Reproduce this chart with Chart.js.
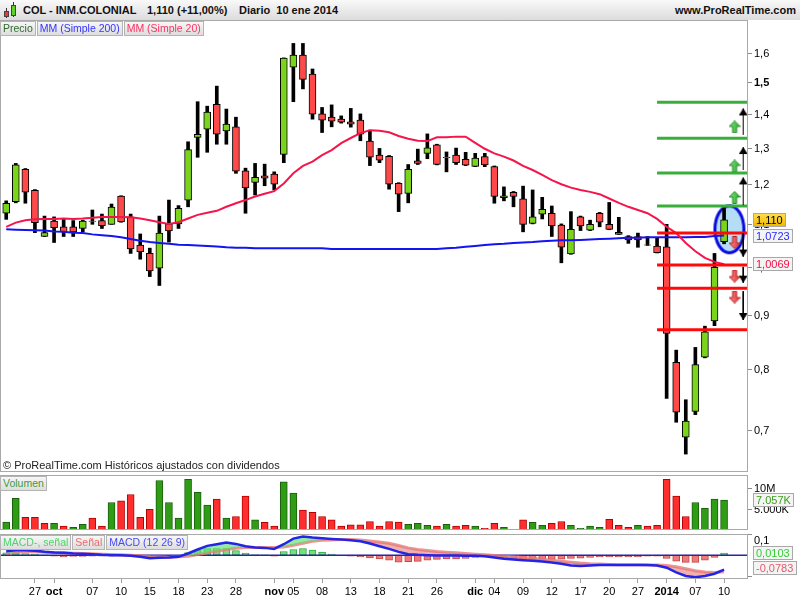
<!DOCTYPE html>
<html>
<head>
<meta charset="utf-8">
<title>COL - INM.COLONIAL</title>
<script src="https://cdn.jsdelivr.net/npm/chart.js@4.4.1/dist/chart.umd.min.js"></script>
<style>
  body { margin: 0; background: #fff; font-family: "Liberation Sans", Arial, sans-serif; }
  #wrap { position: relative; width: 800px; height: 600px; overflow: hidden; }
  #head { position: absolute; left: 0; top: 0; width: 800px; height: 20px; background: linear-gradient(#f9f9f9, #dcdcdc); font-size: 11px; font-weight: bold; color: #111; }
  #head span { position: absolute; top: 4px; white-space: nowrap; }
  canvas { position: absolute; left: 0; }
  .row { position: absolute; left: 0; display: flex; gap: 1px; }
  .tag { height: 13px; line-height: 13px; font-size: 10.5px; padding: 0 2px; border: 1px solid #b4b4b4; background: linear-gradient(#f7f7f7, #dddddd); white-space: nowrap; }
  #note { position: absolute; left: 3px; top: 459px; font-size: 11px; color: #222; white-space: nowrap; }
  .ic { position: absolute; border: 1px solid #444; }
  .wk { position: absolute; width: 1px; background: #333; }
</style>
</head>
<body>
<div id="wrap">
  <div id="head">
    <div class="wk" style="left:6px;top:8px;height:10px"></div>
    <div class="ic" style="left:4px;top:11px;width:3px;height:4px;background:#e83a3a"></div>
    <div class="wk" style="left:13px;top:2px;height:15px"></div>
    <div class="ic" style="left:11px;top:5px;width:3px;height:9px;background:#5fd12a"></div>
    <span style="left:23px">COL - INM.COLONIAL</span>
    <span style="left:147px">1,110 (+11,00%)</span>
    <span style="left:239px">Diario&nbsp; 10 ene 2014</span>
    <span style="right:4px">www.ProRealTime.com</span>
  </div>

  <canvas id="price" width="800" height="452" style="top:20px"></canvas>
  <canvas id="vol" width="800" height="55" style="top:475px"></canvas>
  <canvas id="macd" width="800" height="66" style="top:534px"></canvas>

  <div class="row" style="top:21px">
    <div class="tag" style="color:#2f6a2f">Precio</div>
    <div class="tag" style="color:#3434ff">MM (Simple 200)</div>
    <div class="tag" style="color:#ff3060">MM (Simple 20)</div>
  </div>
  <div id="note">© ProRealTime.com Históricos ajustados con dividendos</div>
  <div class="row" style="top:476px">
    <div class="tag" style="color:#3c9a3c">Volumen</div>
  </div>
  <div class="row" style="top:535px">
    <div class="tag" style="color:#4cd36a">MACD-, señal</div>
    <div class="tag" style="color:#ec6b6b">Señal</div>
    <div class="tag" style="color:#4a4aee">MACD (12 26 9)</div>
  </div>
</div>

<script>
const FONT = '"Liberation Sans", Arial, sans-serif';

// Daily candles, 24 sep 2013 .. 10 ene 2014 (one entry per session)
const open = [1.126, 1.155, 1.240, 1.184, 1.070, 1.107, 1.093, 1.093, 1.089, 1.106,
  1.108, 1.099, 1.169, 1.117, 1.050, 1.031, 0.998, 1.100, 1.100, 1.159,
  1.330, 1.354, 1.430, 1.349, 1.361, 1.236, 1.205, 1.222, 1.227, 1.281,
  1.551, 1.593, 1.528, 1.400, 1.390, 1.384, 1.376, 1.381, 1.319, 1.279,
  1.276, 1.202, 1.176, 1.263, 1.284, 1.308, 1.272, 1.279, 1.267, 1.248,
  1.275, 1.247, 1.165, 1.179, 1.162, 1.101, 1.124, 1.126, 1.097, 1.030,
  1.117, 1.085, 1.126, 1.099, 1.080, 1.070, 1.070, 1.050, 1.048, 1.046,
  0.812, 0.689, 0.729, 0.821, 0.889, 1.058];
const high = [1.157, 1.256, 1.242, 1.186, 1.119, 1.117, 1.111, 1.108, 1.109, 1.134,
  1.124, 1.149, 1.170, 1.124, 1.076, 1.043, 1.119, 1.159, 1.145, 1.317,
  1.438, 1.424, 1.488, 1.415, 1.390, 1.243, 1.256, 1.254, 1.233, 1.583,
  1.634, 1.634, 1.545, 1.420, 1.428, 1.394, 1.417, 1.400, 1.351, 1.298,
  1.278, 1.204, 1.253, 1.296, 1.340, 1.310, 1.288, 1.299, 1.287, 1.284,
  1.284, 1.249, 1.193, 1.181, 1.195, 1.185, 1.166, 1.144, 1.100, 1.130,
  1.119, 1.109, 1.128, 1.153, 1.116, 1.072, 1.078, 1.070, 1.066, 1.099,
  0.834, 0.748, 0.839, 0.879, 1.031, 1.138];
const low = [1.111, 1.152, 1.151, 1.079, 1.070, 1.056, 1.070, 1.070, 1.081, 1.099,
  1.089, 1.099, 1.104, 1.031, 1.018, 0.980, 0.961, 1.057, 1.089, 1.142,
  1.273, 1.287, 1.310, 1.310, 1.229, 1.126, 1.172, 1.196, 1.185, 1.258,
  1.438, 1.479, 1.384, 1.344, 1.361, 1.372, 1.360, 1.320, 1.250, 1.258,
  1.187, 1.130, 1.152, 1.253, 1.269, 1.252, 1.233, 1.253, 1.250, 1.247,
  1.247, 1.151, 1.157, 1.142, 1.081, 1.100, 1.112, 1.070, 1.010, 1.029,
  1.084, 1.084, 1.093, 1.086, 1.075, 1.054, 1.045, 1.049, 1.032, 0.750,
  0.712, 0.664, 0.724, 0.820, 0.880, 1.053];
const close = [1.151, 1.252, 1.179, 1.103, 1.079, 1.091, 1.081, 1.081, 1.107, 1.107,
  1.096, 1.141, 1.105, 1.041, 1.035, 0.992, 1.078, 1.083, 1.138, 1.295,
  1.339, 1.406, 1.339, 1.369, 1.235, 1.190, 1.218, 1.216, 1.200, 1.582,
  1.593, 1.510, 1.399, 1.381, 1.378, 1.375, 1.369, 1.339, 1.273, 1.265,
  1.200, 1.174, 1.240, 1.256, 1.300, 1.253, 1.273, 1.258, 1.251, 1.271,
  1.252, 1.168, 1.170, 1.168, 1.099, 1.117, 1.136, 1.095, 1.045, 1.087,
  1.095, 1.099, 1.104, 1.087, 1.075, 1.062, 1.062, 1.0505, 1.033, 0.865,
  0.728, 0.714, 0.808, 0.868, 1.000, 1.110];

const ma20 = [1.093, 1.103, 1.109, 1.111, 1.112, 1.112, 1.113, 1.112, 1.113, 1.115,
  1.117, 1.117, 1.117, 1.116, 1.113, 1.109, 1.104, 1.100, 1.104, 1.113,
  1.122, 1.127, 1.132, 1.142, 1.151, 1.159, 1.168, 1.175, 1.182, 1.202,
  1.229, 1.249, 1.261, 1.279, 1.293, 1.313, 1.328, 1.342, 1.351, 1.349,
  1.345, 1.334, 1.326, 1.320, 1.319, 1.330, 1.330, 1.332, 1.332, 1.314,
  1.297, 1.284, 1.275, 1.264, 1.249, 1.238, 1.225, 1.211, 1.200, 1.191,
  1.185, 1.180, 1.174, 1.163, 1.152, 1.142, 1.134, 1.126, 1.112, 1.093,
  1.078, 1.055, 1.036, 1.021, 1.012, 1.0069];
const ma200 = [1.087, 1.086, 1.0855, 1.085, 1.084, 1.082, 1.081, 1.079, 1.078, 1.075,
  1.073, 1.071, 1.068, 1.064, 1.060, 1.057, 1.055, 1.053, 1.051, 1.050,
  1.049, 1.048, 1.047, 1.045, 1.044, 1.044, 1.043, 1.043, 1.043, 1.043,
  1.043, 1.043, 1.043, 1.043, 1.041, 1.041, 1.041, 1.041, 1.041, 1.041,
  1.041, 1.041, 1.041, 1.041, 1.041, 1.041, 1.043, 1.044, 1.046, 1.048,
  1.050, 1.052, 1.053, 1.055, 1.056, 1.057, 1.059, 1.060, 1.061, 1.061,
  1.062, 1.063, 1.064, 1.065, 1.066, 1.067, 1.067, 1.068, 1.068, 1.068,
  1.068, 1.068, 1.069, 1.069, 1.071, 1.0723];

// volume in millions of shares, and whether the session closed up (g) or down (r)
const volume = [1.9, 7.5, 3.0, 3.0, 1.6, 1.6, 0.95, 0.65, 1.35, 2.8,
  0.95, 6.5, 6.9, 8.4, 3.0, 4.9, 11.7, 6.5, 2.8, 12.0,
  8.9, 5.9, 7.3, 2.8, 3.2, 8.0, 2.4, 1.8, 0.9, 11.4,
  8.7, 4.7, 4.2, 3.2, 2.4, 0.9, 1.2, 1.2, 2.0, 0.9,
  2.0, 1.9, 1.35, 1.6, 1.1, 0.9, 1.35, 0.9, 1.1, 0.9,
  0.4, 1.6, 0.65, 0.15, 2.4, 1.8, 1.1, 1.6, 2.0, 1.1,
  0.4, 0.9, 0.65, 2.5, 1.1, 0.65, 1.1, 0.9, 1.1, 12.0,
  8.0, 3.2, 6.5, 5.1, 7.3, 7.057];
const volDir = "ggrrrgrggr" + "rgrrrrgggg" + "ggrgrrgrrg" + "grrrrrrrrr" +
  "rrgggrgrrg" + "rrggrggrrg" + "gggrrrgrrr" + "rrgggg";

// MACD (12 26 9)
const macd = [0.0188, 0.0235, 0.0235, 0.0203, 0.0156, 0.0125, 0.011, 0.0078, 0.0063, 0.0047,
  0.0016, 0, 0, -0.0031, -0.0078, -0.0141, -0.0125, -0.011, -0.0078, 0.0078,
  0.0266, 0.0438, 0.0516, 0.0595, 0.0532, 0.0423, 0.036, 0.0344, 0.0297, 0.0516,
  0.0782, 0.0876, 0.0829, 0.0798, 0.0767, 0.0736, 0.0704, 0.0657, 0.0548, 0.0423,
  0.0297, 0.0156, 0.0047, 0.0016, 0, -0.0016, -0.0016, -0.0016, -0.0031, -0.0031,
  -0.0047, -0.011, -0.0172, -0.0203, -0.0235, -0.0266, -0.0297, -0.0344, -0.0407, -0.0485,
  -0.0516, -0.0485, -0.0469, -0.0469, -0.0469, -0.0469, -0.0469, -0.0469, -0.0485, -0.0595,
  -0.0814, -0.0986, -0.1049, -0.0986, -0.0876, -0.068];
const signal = [0.0094, 0.0125, 0.0156, 0.0156, 0.0141, 0.0125, 0.011, 0.0094, 0.0078, 0.0063,
  0.0047, 0.0031, 0.0016, 0, -0.0031, -0.0063, -0.0078, -0.0094, -0.0078, -0.0047,
  0.0031, 0.011, 0.0188, 0.0266, 0.0329, 0.036, 0.036, 0.036, 0.036, 0.0391,
  0.0469, 0.0563, 0.0657, 0.0704, 0.072, 0.0736, 0.0736, 0.072, 0.0673, 0.0626,
  0.0563, 0.0454, 0.0344, 0.0266, 0.0219, 0.0172, 0.0141, 0.011, 0.0078, 0.0047,
  0.0016, -0.0016, -0.0047, -0.0078, -0.011, -0.0141, -0.0188, -0.0235, -0.0282, -0.0329,
  -0.0376, -0.0407, -0.0423, -0.0438, -0.0454, -0.0454, -0.0454, -0.0469, -0.0469, -0.0485,
  -0.0548, -0.0642, -0.0736, -0.0798, -0.0814, -0.0783];
const hist = [0.011, 0.0125, 0.0078, 0.0047, 0.0016, -0.0047, -0.0078, -0.0063, -0.0063, -0.0047,
  -0.0047, -0.0047, -0.0047, -0.0047, -0.0078, -0.011, -0.0078, -0.0047, -0.0016, 0.0125,
  0.0235, 0.0313, 0.0313, 0.0313, 0.0219, 0.0094, 0.0031, 0.0016, -0.0047, 0.0172,
  0.0266, 0.0313, 0.0235, 0.0141, 0.0047, 0, -0.0047, -0.0078, -0.0125, -0.0172,
  -0.0235, -0.0329, -0.0313, -0.0297, -0.0235, -0.0203, -0.0172, -0.0172, -0.0156, -0.011,
  -0.0078, -0.011, -0.0172, -0.0172, -0.0203, -0.0203, -0.0203, -0.0203, -0.0188, -0.0156,
  -0.0141, -0.011, -0.0078, -0.0078, -0.0078, -0.0078, -0.0078, -0.0047, -0.0047, -0.0156,
  -0.0282, -0.0344, -0.0344, -0.0235, -0.011, 0.0103];

// date axis: session index -> label
const xTickIdx = [3, 5, 9, 12, 15, 18, 21, 24, 28, 30, 33, 36, 39, 42, 45, 49, 51, 54, 57, 60, 63, 66, 69, 72, 75];
const xTickText = ["27", "oct", "07", "10", "15", "18", "23", "28", "nov", "05", "08", "13", "18", "21", "26",
  "dic", "04", "09", "12", "17", "20", "27", "2014", "07", "10"];

const priceTicks = [0.7, 0.8, 0.9, 1.0, 1.1, 1.2, 1.3, 1.4, 1.5, 1.6];

// drawn objects on the price panel
const upLevels = [1.436, 1.327, 1.230, 1.144];
const downLevels = [1.078, 1.005, 0.955, 0.872];
const levelStart = 68;
const upArrowFrom = [1.337, 1.238, 1.146];
const upArrowTo = [1.417, 1.302, 1.218];
const downArrowFrom = [1.078, 1.001, 0.949];
const downArrowTo = [1.024, 0.967, 0.891];
const upMarks = [1.3605, 1.249, 1.1656];
const downMarks = [1.056, 0.981, 0.937];
const arrowCol = 77;
const markCol = 76.1;
const circled = { x: 75.56, y: 1.087 };

const X_MIN = -0.65;
const X_MAX = 77.5;

const UP_BODY = "#7ad41c";
const DOWN_BODY = "#ff4848";

const pts = (arr) => arr.map((v, i) => ({ x: i, y: v }));
const comma = (v, d) => v.toFixed(d).replace(".", ",");

function icon(w, h, draw) {
  const c = document.createElement("canvas");
  c.width = w;
  c.height = h;
  draw(c.getContext("2d"));
  return c;
}

const tipUp = icon(9, 16, (g) => {
  g.fillStyle = "#000";
  g.beginPath();
  g.moveTo(4.5, 8); g.lineTo(9, 15); g.lineTo(0, 15);
  g.closePath();
  g.fill();
});
const tipDown = icon(9, 16, (g) => {
  g.fillStyle = "#000";
  g.beginPath();
  g.moveTo(4.5, 8); g.lineTo(9, 1); g.lineTo(0, 1);
  g.closePath();
  g.fill();
});

function blockArrow(top, bottom, edge, down) {
  return icon(12, 13, (g) => {
    if (down) { g.translate(0, 13); g.scale(1, -1); }
    const grad = g.createLinearGradient(0, 0, 12, 0);
    grad.addColorStop(0, top);
    grad.addColorStop(1, bottom);
    g.beginPath();
    g.moveTo(6, 0.5); g.lineTo(11.5, 6); g.lineTo(8, 6); g.lineTo(8, 12.5);
    g.lineTo(4, 12.5); g.lineTo(4, 6); g.lineTo(0.5, 6);
    g.closePath();
    g.fillStyle = grad;
    g.fill();
    g.strokeStyle = edge;
    g.lineWidth = 1;
    g.stroke();
  });
}
const greenUp = blockArrow("#7ee07e", "#2fae2f", "#238a23", false);
const redDown = blockArrow("#ff8a8a", "#e03434", "#b82020", true);

const ring = icon(36, 54, (g) => {
  g.beginPath();
  g.ellipse(18, 27, 14.5, 23.5, 0, 0, Math.PI * 2);
  g.fillStyle = "#b4def6";
  g.fill();
  g.lineWidth = 3;
  g.strokeStyle = "#0a0ae0";
  g.stroke();
});

const framePlugin = {
  id: "frame",
  afterDraw(chart) {
    const { ctx, chartArea: a } = chart;
    ctx.save();
    ctx.strokeStyle = "#a9a9a9";
    ctx.lineWidth = 1;
    ctx.strokeRect(a.left + 0.5, a.top + 0.5, a.right - a.left - 1, a.bottom - a.top - 1);
    ctx.restore();
  },
};

// right-hand scale texts and the value boxes
function sideLabels(ticks, boxes) {
  return {
    id: "sideLabels",
    afterDraw(chart) {
      const { ctx, chartArea: a, scales: { y } } = chart;
      ctx.save();
      ctx.textBaseline = "middle";
      ctx.lineWidth = 1;
      ticks.forEach((t) => {
        const py = Math.round(y.getPixelForValue(t.value));
        ctx.strokeStyle = "#8c8c8c";
        ctx.beginPath();
        ctx.moveTo(a.right, py + 0.5);
        ctx.lineTo(a.right + 4, py + 0.5);
        ctx.stroke();
        if (!t.text) return;
        ctx.font = (t.bold ? "bold " : "") + "11px " + FONT;
        ctx.fillStyle = "#000";
        ctx.fillText(t.text, a.right + 6, Math.max(py, a.top + 6) + 0.5);
      });
      boxes.forEach((b) => {
        let py = Math.round(y.getPixelForValue(b.value));
        py = Math.min(Math.max(py, a.top + 7), a.bottom - 11);
        ctx.font = "11px " + FONT;
        const w = Math.ceil(ctx.measureText(b.text).width) + 6;
        const bx = a.right + 5;
        if (b.gold) {
          const gr = ctx.createLinearGradient(0, py - 7, 0, py + 7);
          gr.addColorStop(0, "#ffe14d");
          gr.addColorStop(1, "#f0b400");
          ctx.fillStyle = gr;
        } else {
          ctx.fillStyle = "#f4f4f4";
        }
        ctx.fillRect(bx, py - 7, w, 14);
        ctx.strokeStyle = "#a8a8a8";
        ctx.strokeRect(bx + 0.5, py - 6.5, w - 1, 13);
        ctx.fillStyle = b.color;
        ctx.fillText(b.text, bx + 3, py + 0.5);
      });
      ctx.restore();
    },
  };
}

function xHidden() {
  return { type: "linear", min: X_MIN, max: X_MAX, bounds: "data", offset: false, display: false };
}
function yRight(extra) {
  return Object.assign({
    position: "right",
    bounds: "data",
    grid: { display: false },
    border: { display: false },
    ticks: { display: false },
    afterFit: (s) => { s.width = 52; },
  }, extra);
}
const common = {
  responsive: false,
  animation: false,
  events: [],
  layout: { autoPadding: false, padding: 0 },
  plugins: { legend: { display: false }, tooltip: { enabled: false } },
};

// ---------- price panel ----------
const flatLine = (v, color) => ({
  type: "line",
  data: [{ x: levelStart, y: v }, { x: X_MAX, y: v }],
  borderColor: color,
  borderWidth: 3,
  pointRadius: 0,
});
const shaft = (from, to) => ({
  type: "line",
  data: [{ x: arrowCol, y: from }, { x: arrowCol, y: to }],
  borderColor: "#000",
  borderWidth: 1,
  pointRadius: 0,
});
const marks = (vals, x, img) => ({
  type: "line",
  data: vals.map((v) => ({ x: x, y: v })),
  showLine: false,
  pointStyle: img,
  pointRadius: 6,
});

const lastIdx = close.length - 1;
new Chart(document.getElementById("price"), {
  type: "bar",
  data: {
    datasets: [
      marks(upArrowTo, arrowCol, tipUp),
      marks(downArrowTo, arrowCol, tipDown),
      ...upArrowFrom.map((v, i) => shaft(v, upArrowTo[i])),
      ...downArrowFrom.map((v, i) => shaft(v, downArrowTo[i])),
      marks(upMarks, markCol, greenUp),
      marks(downMarks, markCol, redDown),
      ...upLevels.map((v) => flatLine(v, "#3aae3a")),
      ...downLevels.map((v) => flatLine(v, "#ff0a0a")),
      {
        type: "line", data: pts(ma20), borderColor: "#f5154a", borderWidth: 2,
        pointRadius: 0,
      },
      {
        type: "line", data: pts(ma200), borderColor: "#1414f0", borderWidth: 2,
        pointRadius: 0,
      },
      {
        type: "bar",
        data: open.map((o, i) => ({ x: i, y: [o, close[i]] })),
        backgroundColor: open.map((o, i) => (close[i] >= o ? UP_BODY : DOWN_BODY)),
        borderColor: "#000",
        borderWidth: 1,
        borderSkipped: false,
        barThickness: 7,
        grouped: false,
      },
      {
        type: "bar",
        data: low.map((l, i) => ({ x: i, y: [l, high[i]] })),
        backgroundColor: "#000",
        borderWidth: 0,
        barThickness: 3,
        grouped: false,
      },
      marks([circled.y], circled.x, ring),
    ],
  },
  options: Object.assign({}, common, {
    scales: {
      x: xHidden(),
      y: yRight({ type: "logarithmic", min: 0.6384, max: 1.7202 }),
    },
  }),
  plugins: [
    framePlugin,
    sideLabels(
      priceTicks.map((v) => ({ value: v, text: comma(v, 1), bold: v === 1.5 })),
      [
        { value: close[lastIdx], text: comma(close[lastIdx], 3), color: "#000", gold: true },
        { value: ma200[lastIdx], text: comma(ma200[lastIdx], 4), color: "#2a2aff" },
        { value: ma20[lastIdx], text: comma(ma20[lastIdx], 4), color: "#ee1144" },
      ]
    ),
  ],
});

// ---------- volume panel ----------
const lastVolK = Math.round(volume[lastIdx] * 1000);
new Chart(document.getElementById("vol"), {
  type: "bar",
  data: {
    datasets: [{
      data: pts(volume),
      backgroundColor: volDir.split("").map((d) => (d === "g" ? "#2f9c16" : "#ff2e2e")),
      borderColor: volDir.split("").map((d) => (d === "g" ? "#1b5e0b" : "#b30000")),
      borderWidth: 1,
      borderSkipped: false,
      barThickness: 7,
      grouped: false,
    }],
  },
  options: Object.assign({}, common, {
    scales: {
      x: xHidden(),
      y: yRight({ type: "linear", min: 0, max: 13 }),
    },
  }),
  plugins: [
    framePlugin,
    sideLabels(
      [{ value: 10, text: "10M" }, { value: 5, text: "5.000K" }],
      [{
        value: volume[lastIdx],
        text: Math.floor(lastVolK / 1000) + "." + String(lastVolK % 1000).padStart(3, "0") + "K",
        color: "#3c9e1e",
      }]
    ),
  ],
});

// ---------- MACD panel ----------
new Chart(document.getElementById("macd"), {
  type: "bar",
  data: {
    datasets: [
      {
        type: "line", data: pts(macd), borderColor: "#2424e8", borderWidth: 2.5, pointRadius: 0,
        fill: { target: 1, above: "rgba(96,222,110,0.65)", below: "rgba(228,112,112,0.55)" },
      },
      {
        type: "line", data: pts(signal), borderColor: "rgba(236,120,120,0.8)", borderWidth: 3,
        pointRadius: 0, fill: false,
      },
      {
        type: "line", data: [{ x: X_MIN, y: 0 }, { x: X_MAX, y: 0 }], borderColor: "#2626a8",
        borderWidth: 1.5, pointRadius: 0,
      },
      {
        type: "bar",
        data: pts(hist),
        backgroundColor: hist.map((v) => (v >= 0 ? "#72e27a" : "#ee7a7a")),
        borderColor: hist.map((v) => (v >= 0 ? "#2fa73a" : "#c24848")),
        borderWidth: 1,
        borderSkipped: false,
        barThickness: 7,
        grouped: false,
      },
    ],
  },
  options: Object.assign({}, common, {
    scales: {
      x: {
        type: "linear", min: X_MIN, max: X_MAX, bounds: "data", offset: false, position: "bottom",
        afterBuildTicks: (s) => { s.ticks = xTickIdx.map((v) => ({ value: v })); },
        afterFit: (s) => { s.height = 21; },
        grid: { display: true, offset: false, drawOnChartArea: false, drawTicks: true, tickLength: 4, color: "#a0a0a0" },
        border: { display: false },
        ticks: {
          autoSkip: false,
          maxRotation: 0,
          padding: 2,
          color: "#000",
          font: (c) => {
            const t = xTickText[c.index] || "";
            const bold = isNaN(Number(t)) || t.length === 4;
            return { family: FONT, size: 11, weight: bold ? "bold" : "normal" };
          },
          callback: (v, i) => xTickText[i],
        },
      },
      y: yRight({ type: "linear", min: -0.1127, max: 0.1 }),
    },
  }),
  plugins: [
    framePlugin,
    sideLabels(
      [{ value: 0.1, text: "0,1" }, { value: -0.1, text: "" }],
      [
        { value: hist[lastIdx], text: comma(hist[lastIdx], 4), color: "#36cc36" },
        { value: signal[lastIdx], text: comma(signal[lastIdx], 4), color: "#e45a6a" },
      ]
    ),
  ],
});
</script>
</body>
</html>
